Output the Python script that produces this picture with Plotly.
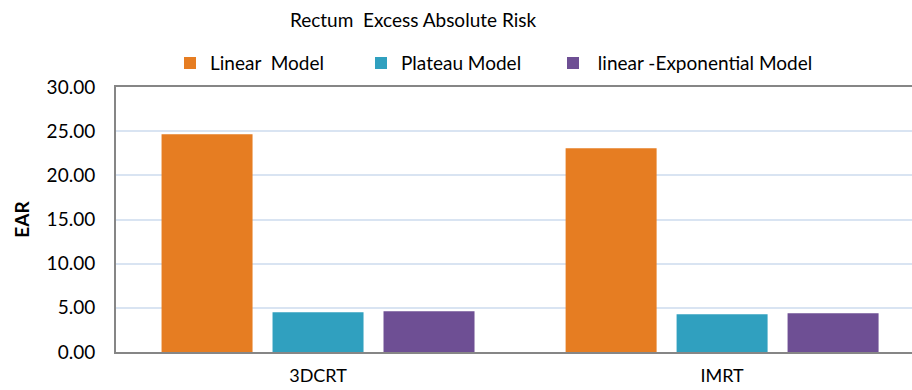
import plotly.graph_objects as go

categories = ["3DCRT", "IMRT"]
linear_model = [24.65, 23.07]
plateau_model = [4.50, 4.27]
linexp_model = [4.61, 4.38]
series_names = ["Linear\u00a0 Model", "Plateau Model", "\u00a0linear -Exponential Model"]
colors = ["#E67D22", "#30A0BF", "#6E4F94"]
legend_ids = ["legend", "legend2", "legend3"]
legend_px = [170, 361, 553]

FONT = "Lato"
FS = 19

fig = go.Figure()
for name, vals, col, lg in zip(series_names, [linear_model, plateau_model, linexp_model], colors, legend_ids):
    fig.add_trace(go.Bar(x=categories, y=vals, name=name, legend=lg,
                         marker=dict(color=col, line=dict(width=0))))

legend_common = dict(orientation="h", xref="paper", xanchor="left",
                     y=1.09, yanchor="middle", bgcolor="rgba(0,0,0,0)",
                     font=dict(family=FONT, size=FS, color="#000000"), itemclick=False)

def px_to_paper(px):
    return (px - 116) / (912 - 116)

fig.update_layout(
    width=912, height=390,
    margin=dict(l=116, r=0, t=87, b=38, autoexpand=False),
    paper_bgcolor="white", plot_bgcolor="white",
    barmode="group", bargap=0.176, bargroupgap=0.18,
    font=dict(family=FONT, size=FS, color="#000000"),
    title=dict(text="Rectum\u00a0 Excess Absolute Risk", x=413/912, xref="container",
               xanchor="center", y=1-20/390, yref="container", yanchor="middle",
               font=dict(family=FONT, size=FS, color="#000000")),
    legend=dict(x=px_to_paper(legend_px[0]), **legend_common),
    legend2=dict(x=px_to_paper(legend_px[1]), **legend_common),
    legend3=dict(x=px_to_paper(legend_px[2]), **legend_common),
    showlegend=True,
)
fig.update_xaxes(range=[-0.5, 1.47], showline=True, mirror=True, linecolor="#868686",
                 linewidth=2, showgrid=False, ticks="", ticklabelstandoff=6,
                 tickfont=dict(family=FONT, size=18))
fig.update_yaxes(range=[0, 30], dtick=5, tickformat=".2f", showline=True,
                 linecolor="#868686", linewidth=2, gridcolor="#D9E4F2", gridwidth=2,
                 zeroline=False, ticks="", ticklabelstandoff=15,
                 tickfont=dict(family=FONT, size=FS),
                 title=dict(text="<b>EAR</b>", standoff=12, font=dict(family=FONT, size=FS)))

fig.write_html("out.html")
